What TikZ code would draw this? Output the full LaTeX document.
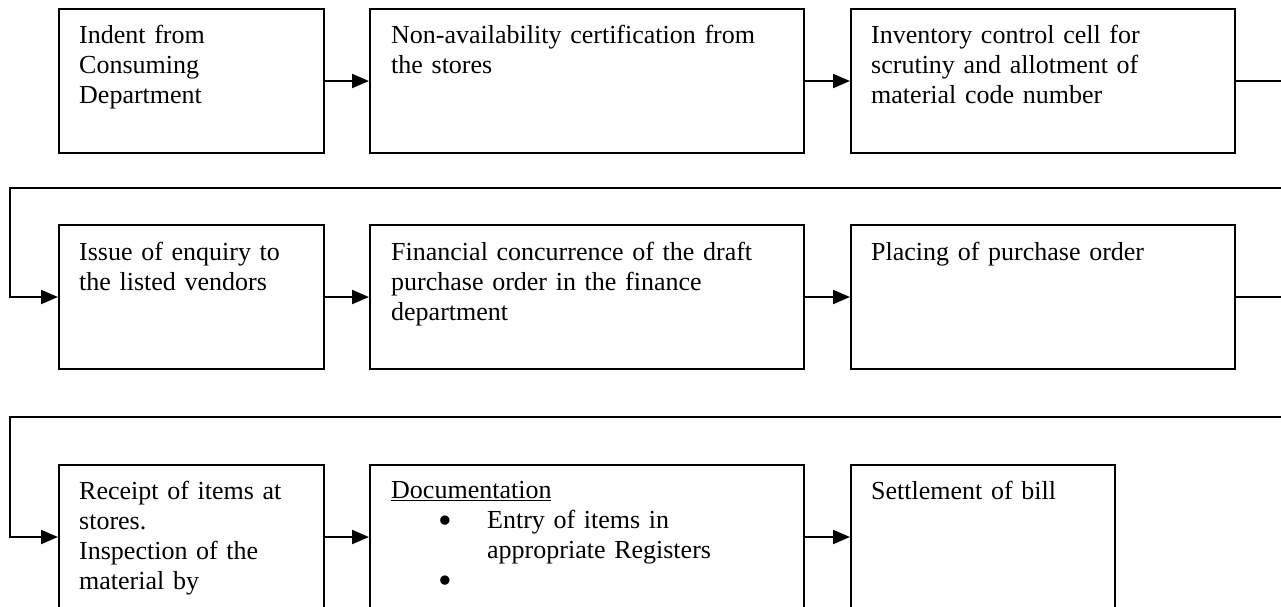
\documentclass[tikz,border=0pt]{standalone}
\usepackage{fontspec}
\setmainfont{Liberation Serif}
\usetikzlibrary{arrows.meta}
\tikzset{
  box/.style={draw=black, line width=2pt, rectangle, anchor=north west, inner sep=0pt},
  txt/.style={anchor=north west, inner sep=0pt, align=left, text width=440pt,
              font=\fontsize{26}{30}\selectfont},
  conn/.style={draw=black, line width=2pt},
  arr/.style={conn, -{Triangle[length=17pt,width=14pt]}}
}
\newcommand{\bigbul}{\raisebox{-5.5pt}{\scalebox{1.5}{\textbullet}}}
\begin{document}
\begin{tikzpicture}[x=1pt,y=-1pt]
\useasboundingbox (0,0) rectangle (1281,606);
\clip (0,0) rectangle (1281,606);
\fill[white] (0,0) rectangle (1281,606);
% row 1
\node[box, minimum width=265pt, minimum height=144pt] (b1) at (58,8) {};
\node[box, minimum width=434pt, minimum height=144pt] (b2) at (369,8) {};
\node[box, minimum width=384pt, minimum height=144pt] (b3) at (850,8) {};
\node[txt] (t1) at (79,22) {\strut Indent from\\Consuming\\Department};
\node[txt] (t2) at (391,22) {\strut Non-availability certification from\\the stores};
\node[txt] (t3) at (871,22) {\strut Inventory control cell for\\scrutiny and allotment of\\material code number};
% row 2
\node[box, minimum width=265pt, minimum height=144pt] (b4) at (58,224) {};
\node[box, minimum width=434pt, minimum height=144pt] (b5) at (369,224) {};
\node[box, minimum width=384pt, minimum height=144pt] (b6) at (850,224) {};
\node[txt] (t4) at (79,239) {\strut Issue of enquiry to\\the listed vendors};
\node[txt] (t5) at (391,239) {\strut Financial concurrence of the draft\\purchase order in the finance\\department};
\node[txt] (t6) at (871,239) {\strut Placing of purchase order};
% row 3
\node[box, minimum width=265pt, minimum height=144pt] (b7) at (58,464) {};
\node[box, minimum width=434pt, minimum height=144pt] (b8) at (369,464) {};
\node[box, minimum width=264pt, minimum height=144pt] (b9) at (850,464) {};
\node[txt] (t7) at (79,478) {\strut Receipt of items at\\stores.\\Inspection of the\\material by};
\node[txt] (t8) at (391,477) {\strut\underline{Documentation}\\
  \hspace*{47pt}\makebox[49pt][l]{\bigbul}Entry of items in\\
  \hspace*{96pt}appropriate Registers\\
  \hspace*{47pt}\bigbul};
\node[txt] (t9) at (871,478) {\strut Settlement of bill};
% connector coordinates
\coordinate (e1) at (1300,188);
\coordinate (w1) at (10,188);
\coordinate (e2) at (1300,417);
\coordinate (w2) at (10,417);
% connectors
\draw[arr] (b1) -- (b2);
\draw[arr] (b2) -- (b3);
\draw[arr] (b3.east) -| (e1) -- (w1) |- (b4.west);
\draw[arr] (b4) -- (b5);
\draw[arr] (b5) -- (b6);
\draw[arr] (b6.east) -| (e2) -- (w2) |- (b7.west);
\draw[arr] (b7) -- (b8);
\draw[arr] (b8) -- (b9);
\end{tikzpicture}
\end{document}
